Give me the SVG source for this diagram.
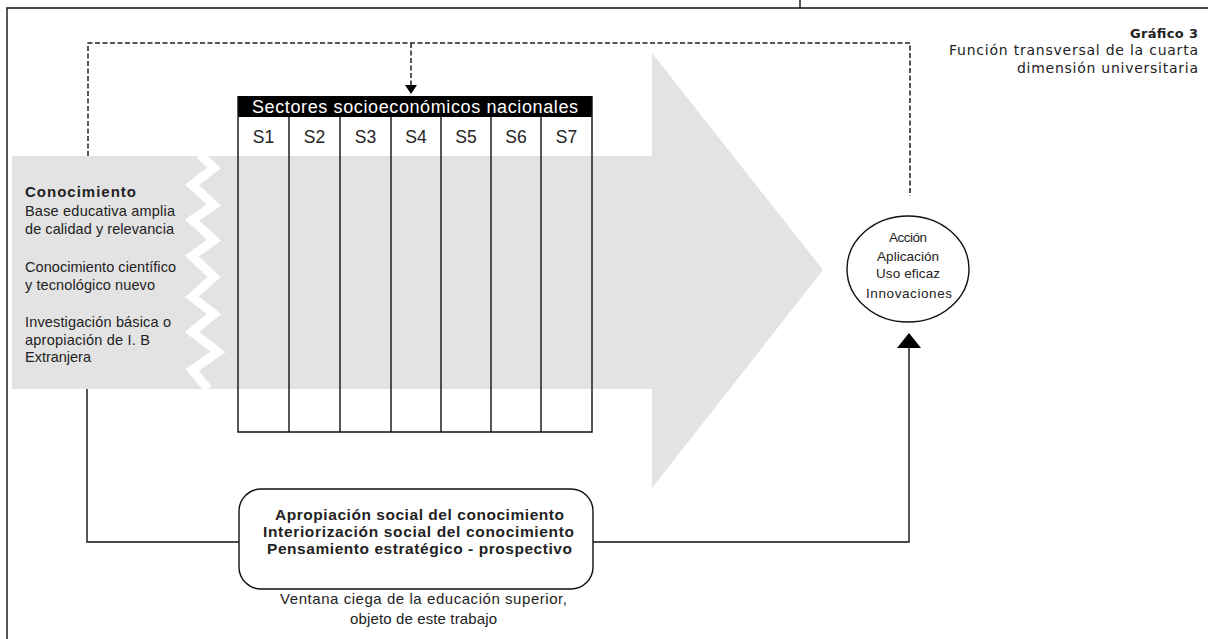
<svg xmlns="http://www.w3.org/2000/svg" width="1208" height="639" viewBox="0 0 1208 639">
<defs>
<style>
.ln{fill:none;stroke:#111;stroke-width:1.4}
.dash{fill:none;stroke:#222;stroke-width:1.5;stroke-dasharray:5 2.5}
.t{font-family:"Liberation Sans",Arial,sans-serif;fill:#222}
.b{font-weight:bold}
.g{font-family:"DejaVu Sans","Liberation Sans",sans-serif;fill:#222}
</style>
</defs>
<rect width="1208" height="639" fill="#fff"/>
<!-- frame -->
<g id="frame">
<path class="ln" d="M7,639 V8 H1208 M800,0 V8"/>
</g>
<!-- big gray arrow -->
<g id="big-arrow">
<polygon points="12,156 652,156 652,53 823,270 652,488 652,389 12,389" fill="#e3e3e3"/>
<polyline points="200,155 214,168 192,185 214,205 192,220 214,240 192,256 214,277 192,297 214,314 192,332 218,352 192,370 208,389" fill="none" stroke="#fff" stroke-width="9" stroke-linejoin="miter"/>
</g>
<!-- title -->
<g id="title">
<text class="g b" x="1198" y="38" font-size="13" text-anchor="end" textLength="68">Gráfico 3</text>
<text class="g" x="1198" y="55" font-size="14" text-anchor="end" textLength="249">Función transversal de la cuarta</text>
<text class="g" x="1198" y="73" font-size="14" text-anchor="end" textLength="181">dimensión universitaria</text>
</g>
<!-- knowledge text -->
<g id="conocimiento">
<text class="t b" x="25" y="197" font-size="15" textLength="111">Conocimiento</text>
<text class="t" x="25" y="216" font-size="14.5" textLength="150">Base educativa amplia</text>
<text class="t" x="25" y="234" font-size="14.5" textLength="149">de calidad y relevancia</text>
<text class="t" x="25" y="272" font-size="14.5" textLength="151">Conocimiento científico</text>
<text class="t" x="25" y="290" font-size="14.5" textLength="130">y tecnológico nuevo</text>
<text class="t" x="25" y="327" font-size="14.5" textLength="146">Investigación básica o</text>
<text class="t" x="25" y="345" font-size="14.5" textLength="125">apropiación de I. B</text>
<text class="t" x="25" y="362" font-size="14.5" textLength="66">Extranjera</text>
</g>
<!-- sectors table -->
<g id="sectores">
<rect x="238" y="96" width="354" height="21" fill="#000"/>
<text class="t" x="415" y="113" font-size="18" text-anchor="middle" style="fill:#fff" textLength="326">Sectores socioeconómicos nacionales</text>
<path class="ln" d="M238,96 V432 H592 V96 M289,117 V432 M340,117 V432 M391,117 V432 M441,117 V432 M491,117 V432 M541,117 V432"/>
<g class="t" font-size="17.5" text-anchor="middle">
<text x="263.5" y="143">S1</text>
<text x="314.5" y="143">S2</text>
<text x="365.5" y="143">S3</text>
<text x="416" y="143">S4</text>
<text x="466" y="143">S5</text>
<text x="516" y="143">S6</text>
<text x="566.5" y="143">S7</text>
</g>
</g>
<!-- action circle -->
<g id="accion">
<ellipse cx="908" cy="269" rx="61" ry="53" fill="#fff" stroke="#111" stroke-width="1.4"/>
<g class="t" font-size="13.5" text-anchor="middle">
<text x="908" y="242" textLength="38">Acción</text>
<text x="908" y="261" textLength="62">Aplicación</text>
<text x="908" y="278" textLength="64">Uso eficaz</text>
<text x="909" y="298" textLength="86">Innovaciones</text>
</g>
</g>
<!-- bottom box -->
<g id="apropiacion">
<rect x="239" y="489" width="354" height="100" rx="22" ry="22" fill="#fff" stroke="#111" stroke-width="1.4"/>
<g class="t b" font-size="15.5" text-anchor="middle">
<text x="419.5" y="520" textLength="289">Apropiación social del conocimiento</text>
<text x="418.5" y="537" textLength="311">Interiorización  social del conocimiento</text>
<text x="419.5" y="554" textLength="305">Pensamiento estratégico - prospectivo</text>
</g>
</g>
<g id="caption">
<text class="t" x="423.5" y="604" font-size="15" text-anchor="middle" textLength="287">Ventana ciega de la educación superior,</text>
<text class="t" x="423.5" y="624" font-size="15" text-anchor="middle" textLength="147">objeto de este trabajo</text>
</g>
<!-- connectors -->
<g id="connectors">
<path class="dash" d="M88,156 V43 H910 V196"/>
<path class="dash" d="M411,43 V86"/>
<polygon points="405,85 417,85 411,94" fill="#000"/>
<path class="ln" d="M87,389 V542 H239 M593,542 H909 V346"/>
<polygon points="897,348 921,348 909,333" fill="#000"/>
</g>
</svg>
